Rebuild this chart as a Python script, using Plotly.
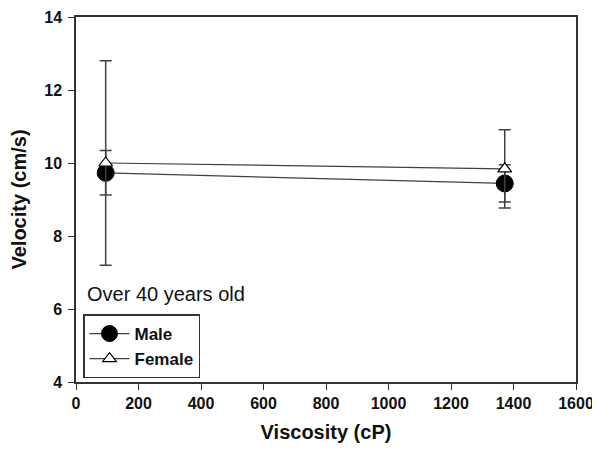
import plotly.graph_objects as go

viscosity = [95, 1372]
male_velocity = [9.73, 9.44]
male_err = [0.61, 0.51]
female_velocity = [10.0, 9.84]
female_err = [2.8, 1.07]
x_ticks = [0, 200, 400, 600, 800, 1000, 1200, 1400, 1600]
y_ticks = [4, 6, 8, 10, 12, 14]

fig = go.Figure()
fig.add_trace(go.Scatter(
    x=viscosity, y=male_velocity, name="Male", mode="lines+markers",
    line=dict(color="#404040", width=1.2),
    marker=dict(symbol="circle", size=17, color="black", line=dict(color="black", width=1)),
    error_y=dict(type="data", array=male_err, visible=True, color="#404040", thickness=1.5, width=6),
))
fig.add_trace(go.Scatter(
    x=viscosity, y=female_velocity, name="Female", mode="lines+markers",
    line=dict(color="#404040", width=1.2),
    marker=dict(symbol="triangle-up", size=12, color="white", line=dict(color="black", width=1.2)),
    error_y=dict(type="data", array=female_err, visible=True, color="#404040", thickness=1.5, width=6),
))

fig.add_annotation(x=0.018, y=0.241, xref="paper", yref="paper", text="Over 40 years old",
                   showarrow=False, xanchor="left", yanchor="middle",
                   font=dict(family="Liberation Sans, Arial", size=20, color="#111"))

axis_font = dict(family="Liberation Sans, Arial", size=20, color="#111")
tick_font = dict(family="Liberation Sans, Arial", size=16, color="#111", weight="bold")
fig.update_layout(
    width=592, height=442,
    margin=dict(l=68, r=24, t=9, b=68, autoexpand=False),
    paper_bgcolor="white", plot_bgcolor="white",
    showlegend=True,
    legend=dict(x=0.014, y=0.185, xanchor="left", yanchor="top",
                bordercolor="#333", borderwidth=1.5, bgcolor="white",
                font=dict(family="Liberation Sans, Arial", size=17, color="#111", weight="bold"),
                tracegroupgap=0, itemsizing="trace", itemwidth=40),
    xaxis=dict(range=[0, 1600], tickvals=x_ticks, ticks="outside", ticklen=6, tickcolor="#333",
               showline=True, linecolor="#333", linewidth=1.5, mirror=True, showgrid=False, zeroline=False,
               automargin=False, tickfont=tick_font,
               title=dict(text="<b>Viscosity (cP)</b>", font=axis_font, standoff=14)),
    yaxis=dict(range=[4, 14], tickvals=y_ticks, ticks="outside", ticklen=6, tickcolor="#333",
               showline=True, linecolor="#333", linewidth=1.5, mirror=True, showgrid=False, zeroline=False,
               automargin=False, tickfont=tick_font, ticklabelstandoff=3,
               title=dict(text="<b>Velocity (cm/s)</b>", font=axis_font, standoff=14)),
)

fig.write_html("out.html")
